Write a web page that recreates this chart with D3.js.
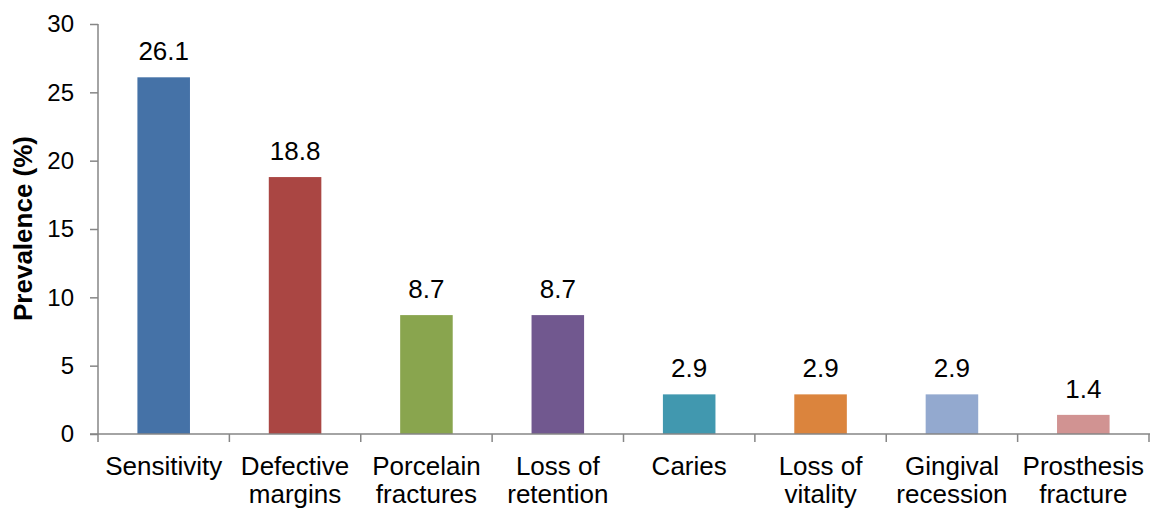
<!DOCTYPE html>
<html>
<head>
<meta charset="utf-8">
<script src="https://cdn.jsdelivr.net/npm/d3@7"></script>
<style>
  html, body { margin: 0; padding: 0; background: #ffffff; }
  svg { display: block; font-family: Arial, "Liberation Sans", sans-serif; }
</style>
</head>
<body>
<svg id="chart" width="1151" height="509"></svg>
<script>
// Prevalence of complications by type
const categories = [
  ["Sensitivity"],
  ["Defective", "margins"],
  ["Porcelain", "fractures"],
  ["Loss of", "retention"],
  ["Caries"],
  ["Loss of", "vitality"],
  ["Gingival", "recession"],
  ["Prosthesis", "fracture"]
];
const values = [26.1, 18.8, 8.7, 8.7, 2.9, 2.9, 2.9, 1.4];
const barColors = ["#4572A7", "#AA4643", "#89A54E", "#71588F", "#4198AF", "#DB843D", "#93A9CF", "#D19392"];
const yTicks = [0, 5, 10, 15, 20, 25, 30];
const yTitle = "Prevalence (%)";

const svg = d3.select("#chart");
const plotLeft = 98, plotRight = 1149, plotTop = 24, plotBottom = 434;
const axisColor = "#868686";

const keys = categories.map((c, i) => i);
const x = d3.scaleBand().domain(keys).range([plotLeft, plotRight]).paddingInner(0.6).paddingOuter(0.3);
const y = d3.scaleLinear().domain([0, 30]).range([plotBottom, plotTop]);

// bars
svg.append("g").selectAll("rect").data(values).join("rect")
  .attr("x", (d, i) => x(i))
  .attr("y", d => y(d))
  .attr("width", x.bandwidth())
  .attr("height", d => y(0) - y(d))
  .attr("fill", (d, i) => barColors[i]);

// value labels
svg.append("g").selectAll("text").data(values).join("text")
  .attr("x", (d, i) => x(i) + x.bandwidth() / 2)
  .attr("y", d => y(d) - 17)
  .attr("text-anchor", "middle")
  .attr("font-size", 26)
  .attr("fill", "#000")
  .text(d => d.toFixed(1));

// y axis
const yAxis = svg.append("g")
  .attr("transform", `translate(${plotLeft},0)`)
  .call(d3.axisLeft(y).tickValues(yTicks).tickSize(8).tickPadding(16).tickFormat(d3.format("d")));
yAxis.selectAll("text").attr("font-size", 24).attr("fill", "#000").attr("font-family", "Arial, 'Liberation Sans', sans-serif");

// x axis: ticks at band boundaries
const xAxisG = svg.append("g").attr("transform", `translate(0,${plotBottom})`);
xAxisG.append("line").attr("class", "baseline").attr("x1", plotLeft - 8).attr("x2", plotRight + 1).attr("y1", 0).attr("y2", 0);
const boundaries = d3.range(categories.length + 1).map(i => plotLeft + i * x.step());
xAxisG.selectAll("line.tick").data(boundaries).join("line")
  .attr("class", "tick")
  .attr("x1", d => d).attr("x2", d => d)
  .attr("y1", 0).attr("y2", 8);

// category labels (one or two lines)
const catG = svg.append("g");
categories.forEach((lines, i) => {
  const t = catG.append("text")
    .attr("x", x(i) + x.bandwidth() / 2)
    .attr("y", 475)
    .attr("text-anchor", "middle")
    .attr("font-size", 26)
    .attr("fill", "#000");
  lines.forEach((ln, j) => {
    t.append("tspan")
      .attr("x", x(i) + x.bandwidth() / 2)
      .attr("dy", j === 0 ? 0 : 28)
      .text(ln);
  });
});

// axis styling
svg.selectAll(".domain, .tick line, line.tick, line.baseline").attr("stroke", axisColor).attr("stroke-width", 1.5);
yAxis.select(".domain").attr("d", `M0,${plotTop}V${plotBottom}`);

// y axis title
svg.append("text")
  .attr("transform", `translate(32,${(135 + 322) / 2}) rotate(-90)`)
  .attr("text-anchor", "middle")
  .attr("font-size", 26)
  .attr("font-weight", "bold")
  .attr("fill", "#000")
  .text(yTitle);
</script>
</body>
</html>
